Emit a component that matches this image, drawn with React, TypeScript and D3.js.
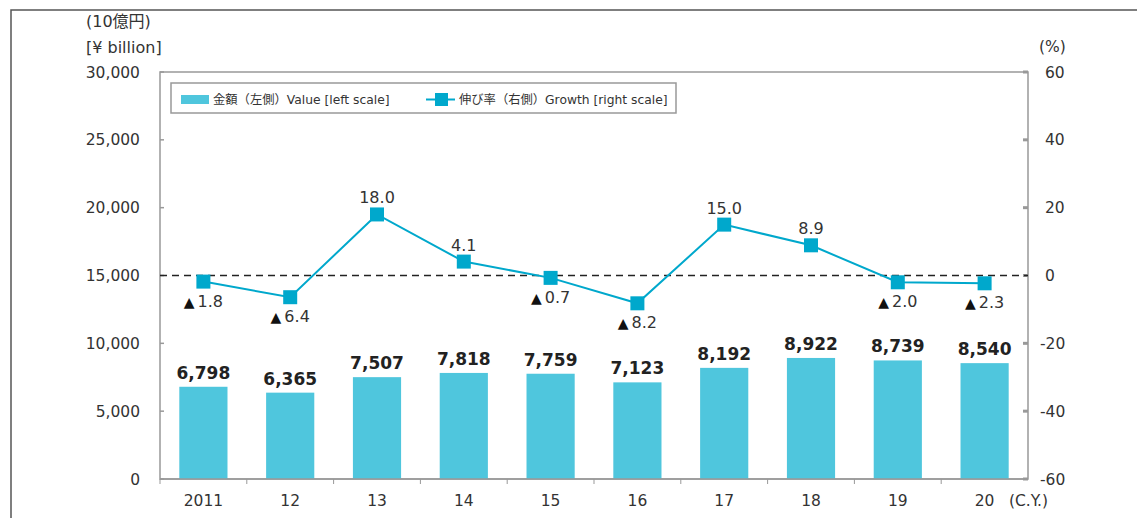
import React from "react";
import * as d3 from "d3";

const categories = ["2011", "12", "13", "14", "15", "16", "17", "18", "19", "20"];
const values = [6798, 6365, 7507, 7818, 7759, 7123, 8192, 8922, 8739, 8540];
const growth = [-1.8, -6.4, 18.0, 4.1, -0.7, -8.2, 15.0, 8.9, -2.0, -2.3];
const leftTicks = [0, 5000, 10000, 15000, 20000, 25000, 30000];
const rightTicks = [-60, -40, -20, 0, 20, 40, 60];

const W = 1137;
const H = 518;
const M = { left: 160, right: 1028, top: 72, bottom: 479 };
const FONT = "'DejaVu Sans', Verdana, sans-serif";
const JFONT = "'DejaVu Sans', 'Noto Sans CJK JP', sans-serif";
const BAR = "#4FC6DD";
const LINE = "#00A8CC";
const TXT = "#333";
const AX = "#999";

export default function App() {
  const x = d3.scaleBand<string>().domain(categories).range([M.left, M.right]).paddingInner(0).paddingOuter(0);
  const yL = d3.scaleLinear().domain([0, 30000]).range([M.bottom, M.top]);
  const yR = d3.scaleLinear().domain([-60, 60]).range([M.bottom, M.top]);
  const bw = x.bandwidth() * 0.555;
  const cx = (c: string) => (x(c) as number) + x.bandwidth() / 2;
  const lineGen = d3
    .line<number>()
    .x((_, i) => cx(categories[i]))
    .y((d) => yR(d));
  const fmt = d3.format(",");
  const ms = 14;

  return (
    <svg width={W} height={H} style={{ position: "absolute", left: 0, top: 0, background: "#fff" }}>
      <rect x={0} y={0} width={W} height={H} fill="#fff" />
      <rect x={11} y={10} width={W + 20} height={H + 20} fill="none" stroke="#555" strokeWidth={1.5} />

      {/* plot border */}
      <rect x={M.left} y={M.top} width={M.right - M.left} height={M.bottom - M.top} fill="none" stroke={AX} strokeWidth={1.5} />

      {/* bars */}
      {values.map((v, i) => (
        <rect key={"b" + i} x={cx(categories[i]) - bw / 2} y={yL(v)} width={bw} height={yL(0) - yL(v)} fill={BAR} />
      ))}

      {/* left ticks */}
      {leftTicks.map((t) => (
        <g key={"l" + t}>
          <line x1={M.left} x2={M.left + 4} y1={yL(t)} y2={yL(t)} stroke={AX} strokeWidth={1.5} />
          <text x={140} y={yL(t)} dy="0.36em" textAnchor="end" fontFamily={FONT} fontSize={15.5} fill={TXT}>
            {fmt(t)}
          </text>
        </g>
      ))}

      {/* right ticks */}
      {rightTicks.map((t) => (
        <g key={"r" + t}>
          <line x1={M.right - 5} x2={M.right} y1={yR(t)} y2={yR(t)} stroke={AX} strokeWidth={3} />
          <text x={t < 0 ? 1040 : 1045} y={yR(t)} dy="0.36em" textAnchor="start" fontFamily={FONT} fontSize={15.5} fill={TXT}>
            {t}
          </text>
        </g>
      ))}

      {/* x ticks */}
      {categories.map((c) => (
        <g key={"x" + c}>
          <line x1={x(c) as number} x2={x(c) as number} y1={M.bottom} y2={M.bottom + 5} stroke={AX} strokeWidth={1} />
          <text x={cx(c)} y={500} dy="0.36em" textAnchor="middle" fontFamily={FONT} fontSize={15.5} fill={TXT}>
            {c}
          </text>
        </g>
      ))}
      <line x1={M.left} x2={M.right} y1={M.bottom} y2={M.bottom} stroke={AX} strokeWidth={1.5} />

      {/* axis titles */}
      <text x={86} y={21} dy="0.36em" fontFamily={JFONT} fontSize={16} fill={TXT}>(10億円)</text>
      <text x={86} y={47} dy="0.36em" fontFamily={JFONT} fontSize={16} fill={TXT}>[¥ billion]</text>
      <text x={1039} y={46} dy="0.36em" fontFamily={FONT} fontSize={15.5} fill={TXT}>(%)</text>
      <text x={1009} y={500} dy="0.36em" fontFamily={FONT} fontSize={15.5} fill={TXT}>(C.Y.)</text>

      {/* zero dashed */}
      <line x1={M.left} x2={M.right} y1={yR(0)} y2={yR(0)} stroke="#222" strokeWidth={1.3} strokeDasharray="7,5" />

      {/* growth line */}
      <path d={lineGen(growth) || ""} fill="none" stroke={LINE} strokeWidth={2} />
      {growth.map((g, i) => (
        <rect key={"m" + i} x={cx(categories[i]) - ms / 2} y={yR(g) - ms / 2} width={ms} height={ms} fill={LINE} />
      ))}

      {/* value labels */}
      {values.map((v, i) => (
        <text key={"vl" + i} x={cx(categories[i])} y={yL(v) - 8} textAnchor="middle" fontFamily={FONT} fontWeight="bold" fontSize={17} fill="#222">
          {fmt(v)}
        </text>
      ))}

      {/* growth labels */}
      {growth.map((g, i) =>
        g >= 0 ? (
          <text key={"gl" + i} x={cx(categories[i])} y={yR(g) - 11} textAnchor="middle" fontFamily={FONT} fontSize={16} fill={TXT}>
            {g.toFixed(1)}
          </text>
        ) : (
          <text key={"gl" + i} x={cx(categories[i])} y={yR(g) + 25} textAnchor="middle" fontFamily={FONT} fontSize={16} fill={TXT}>
            <tspan fontSize={14} fill="#111">▲</tspan>
            <tspan dx={3}>{Math.abs(g).toFixed(1)}</tspan>
          </text>
        )
      )}

      {/* legend */}
      <rect x={171} y={83} width={505} height={30} fill="#fff" stroke={AX} strokeWidth={1.5} />
      <rect x={181} y={95} width={28} height={9} fill={BAR} />
      <text x={213} y={99.5} dy="0.36em" fontFamily={JFONT} fontSize={12.3} fill={TXT}>金額（左側）Value [left scale]</text>
      <line x1={426} x2={455} y1={99.5} y2={99.5} stroke={LINE} strokeWidth={2} />
      <rect x={435} y={93} width={13} height={13} fill={LINE} />
      <text x={459} y={99.5} dy="0.36em" fontFamily={JFONT} fontSize={12.3} fill={TXT}>伸び率（右側）Growth [right scale]</text>
    </svg>
  );
}
